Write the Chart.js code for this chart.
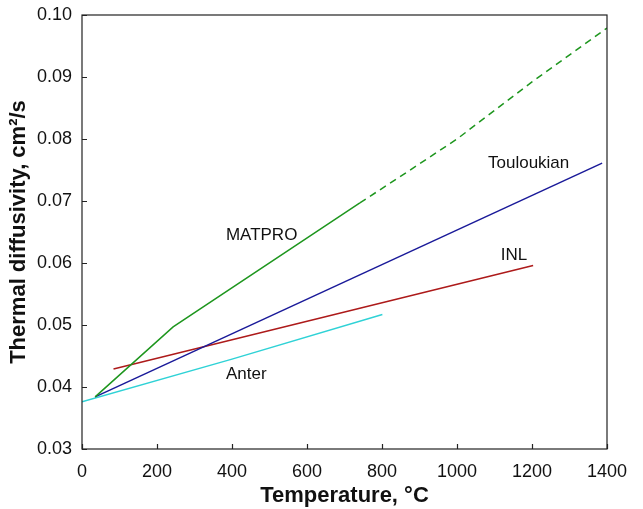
<!DOCTYPE html>
<html>
<head>
<meta charset="utf-8">
<script src="https://cdn.jsdelivr.net/npm/chart.js@4"></script>
<style>
  html, body { margin: 0; padding: 0; background: #fff; }
  #wrap { width: 643px; height: 509px; }
</style>
</head>
<body>
<div id="wrap"><canvas id="myChart" width="643" height="509"></canvas></div>
<script>
// temperatures (°C) and diffusivities (cm2/s)
const matproT = [35, 243, 741];
const matproA = [0.0384, 0.0497, 0.0697];
const matproExtT = [741, 835, 1000, 1200, 1400];
const matproExtA = [0.0697, 0.0734, 0.0800, 0.0892, 0.0979];
const toulT = [35, 1387];
const toulA = [0.0384, 0.0761];
const inlT = [84, 1203];
const inlA = [0.0429, 0.0596];
const anterT = [0, 400, 801];
const anterA = [0.0376, 0.0445, 0.0517];

const xTicks = [0, 200, 400, 600, 800, 1000, 1200, 1400];
const yTicks = [0.03, 0.04, 0.05, 0.06, 0.07, 0.08, 0.09, 0.10];

const labels = [
  { text: 'MATPRO', x: 479, y: 0.0645 },
  { text: 'Touloukian', x: 1191, y: 0.0760 },
  { text: 'INL', x: 1152, y: 0.0613 },
  { text: 'Anter', x: 438, y: 0.0421 }
];

const pts = (xs, ys) => xs.map((x, i) => ({ x: x, y: ys[i] }));

const line = (data, color, dash) => ({
  data: data,
  borderColor: color,
  borderWidth: 1.5,
  borderDash: dash || [],
  pointRadius: 0,
  fill: false,
  tension: 0
});

const FONT = 'Liberation Sans, Arial, sans-serif';

const noPad = (s) => {
  s.paddingTop = 0;
  s.paddingBottom = 0;
  s.paddingLeft = 0;
  s.paddingRight = 0;
};

// frame, inward ticks and curve labels
const decor = {
  id: 'decor',
  afterDraw(chart) {
    const ctx = chart.ctx;
    const a = chart.chartArea;
    const xs = chart.scales.x, ys = chart.scales.y;
    ctx.save();
    ctx.strokeStyle = '#222';
    ctx.lineWidth = 1.2;
    ctx.strokeRect(a.left, a.top, a.right - a.left, a.bottom - a.top);
    ctx.beginPath();
    xTicks.forEach(t => {
      const px = Math.round(xs.getPixelForValue(t)) + 0.5;
      ctx.moveTo(px, a.bottom);
      ctx.lineTo(px, a.bottom - 5);
    });
    yTicks.forEach(t => {
      const py = Math.round(ys.getPixelForValue(t)) + 0.5;
      ctx.moveTo(a.left, py);
      ctx.lineTo(a.left + 5, py);
    });
    ctx.stroke();
    ctx.fillStyle = '#111';
    ctx.font = '17px ' + FONT;
    ctx.textAlign = 'center';
    ctx.textBaseline = 'middle';
    labels.forEach(l => {
      ctx.fillText(l.text, xs.getPixelForValue(l.x), ys.getPixelForValue(l.y));
    });
    ctx.restore();
  }
};

new Chart(document.getElementById('myChart').getContext('2d'), {
  type: 'line',
  data: {
    datasets: [
      line(pts(matproT, matproA), '#1e961e'),
      line(pts(matproExtT, matproExtA), '#1e961e', [7, 5]),
      line(pts(toulT, toulA), '#1a1a99'),
      line(pts(inlT, inlA), '#ad1a1a'),
      line(pts(anterT, anterA), '#2fd2d6')
    ]
  },
  options: {
    responsive: false,
    animation: false,
    layout: { padding: { left: 0, top: 15, right: 36, bottom: 0 } },
    plugins: { legend: { display: false }, tooltip: { enabled: false } },
    scales: {
      x: {
        type: 'linear',
        min: 0,
        max: 1400,
        afterFit(s) { s.height = 60; noPad(s); },
        afterBuildTicks(s) { s.ticks = xTicks.map(v => ({ value: v })); },
        grid: { display: false, drawTicks: false },
        border: { display: false },
        ticks: {
          color: '#111',
          font: { family: FONT, size: 18 },
          padding: 12,
          maxRotation: 0,
          callback: v => String(v)
        },
        title: {
          display: true,
          text: 'Temperature, °C',
          color: '#111',
          font: { family: FONT, size: 22, weight: 'bold' },
          padding: { top: 0, bottom: 0 }
        }
      },
      y: {
        type: 'linear',
        min: 0.03,
        max: 0.10,
        afterFit(s) { s.width = 82; noPad(s); },
        afterBuildTicks(s) { s.ticks = yTicks.map(v => ({ value: v })); },
        grid: { display: false, drawTicks: false },
        border: { display: false },
        ticks: {
          color: '#111',
          font: { family: FONT, size: 18 },
          padding: 10,
          callback: v => v.toFixed(2)
        },
        title: {
          display: true,
          text: 'Thermal diffusivity, cm²/s',
          color: '#111',
          font: { family: FONT, size: 22, weight: 'bold' },
          padding: { top: 6, bottom: 0 }
        }
      }
    }
  },
  plugins: [decor]
});
</script>
</body>
</html>
